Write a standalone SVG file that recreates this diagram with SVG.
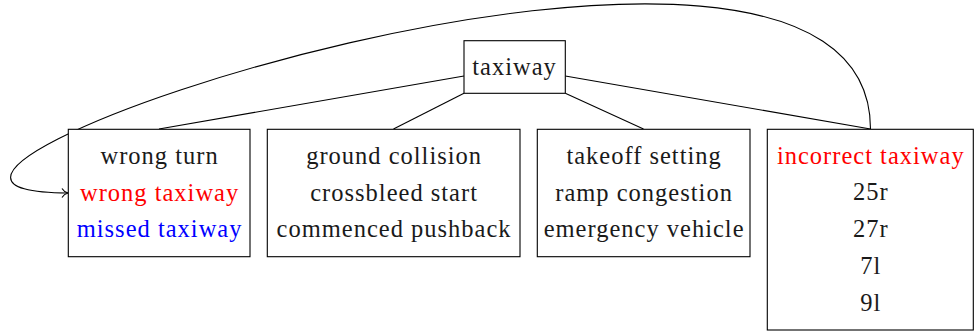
<svg xmlns="http://www.w3.org/2000/svg" width="976" height="331" viewBox="0 0 976 331">
  <defs>
    <style>
      .box { fill: #ffffff; stroke: #000000; stroke-width: 1.1; }
      .edge { fill: none; stroke: #000000; stroke-width: 1.1; }
      text { font-family: "Liberation Serif", "Times New Roman", serif; font-size: 24.5px; letter-spacing: 1px; text-anchor: middle; fill: #1a1a1a; }
      .red { fill: #ff0000; }
      .blue { fill: #0000ff; }
    </style>
    <marker id="arrow" markerWidth="12" markerHeight="12" refX="9" refY="6" orient="auto" markerUnits="userSpaceOnUse">
      <path d="M3,1.5 Q5,5 9,6 Q5,7 3,10.5" fill="none" stroke="#000000" stroke-width="1.1"/>
    </marker>
  </defs>

  <rect width="976" height="331" fill="#ffffff"/>

  <g id="connectors">
    <line class="edge" x1="464" y1="76" x2="159" y2="129"/>
    <line class="edge" x1="464" y1="93.3" x2="393.5" y2="129"/>
    <line class="edge" x1="565.3" y1="93.3" x2="643.5" y2="129"/>
    <line class="edge" x1="565.3" y1="76" x2="870.5" y2="129"/>
    <path class="edge" d="M870.5,129 C870.5,-186 -252,193 68,193" marker-end="url(#arrow)"/>
  </g>

  <g id="taxiway">
    <rect class="box" x="464" y="40.7" width="101.3" height="52.6"/>
    <text x="514.6" y="75">taxiway</text>
  </g>

  <g id="wrong-turn">
    <rect class="box" x="68.3" y="129.3" width="181.7" height="127.4"/>
    <text x="159.6" y="164">wrong turn</text>
    <text class="red" x="159.6" y="200.5">wrong taxiway</text>
    <text class="blue" x="159.6" y="237">missed taxiway</text>
  </g>

  <g id="ground-collision">
    <rect class="box" x="267.3" y="129.3" width="252.7" height="127.4"/>
    <text x="394.1" y="164">ground collision</text>
    <text x="394.1" y="200.5">crossbleed start</text>
    <text x="394.1" y="237">commenced pushback</text>
  </g>

  <g id="takeoff-setting">
    <rect class="box" x="537.3" y="129.3" width="212.7" height="127.4"/>
    <text x="644.1" y="164">takeoff setting</text>
    <text x="644.1" y="200.5">ramp congestion</text>
    <text x="644.1" y="237">emergency vehicle</text>
  </g>

  <g id="incorrect-taxiway">
    <rect class="box" x="767.3" y="129.3" width="206" height="200.7"/>
    <text class="red" x="870.8" y="163.5">incorrect taxiway</text>
    <text x="870.8" y="200.3">25r</text>
    <text x="870.8" y="237.2">27r</text>
    <text x="870.8" y="274">7l</text>
    <text x="870.8" y="310.8">9l</text>
  </g>
</svg>
